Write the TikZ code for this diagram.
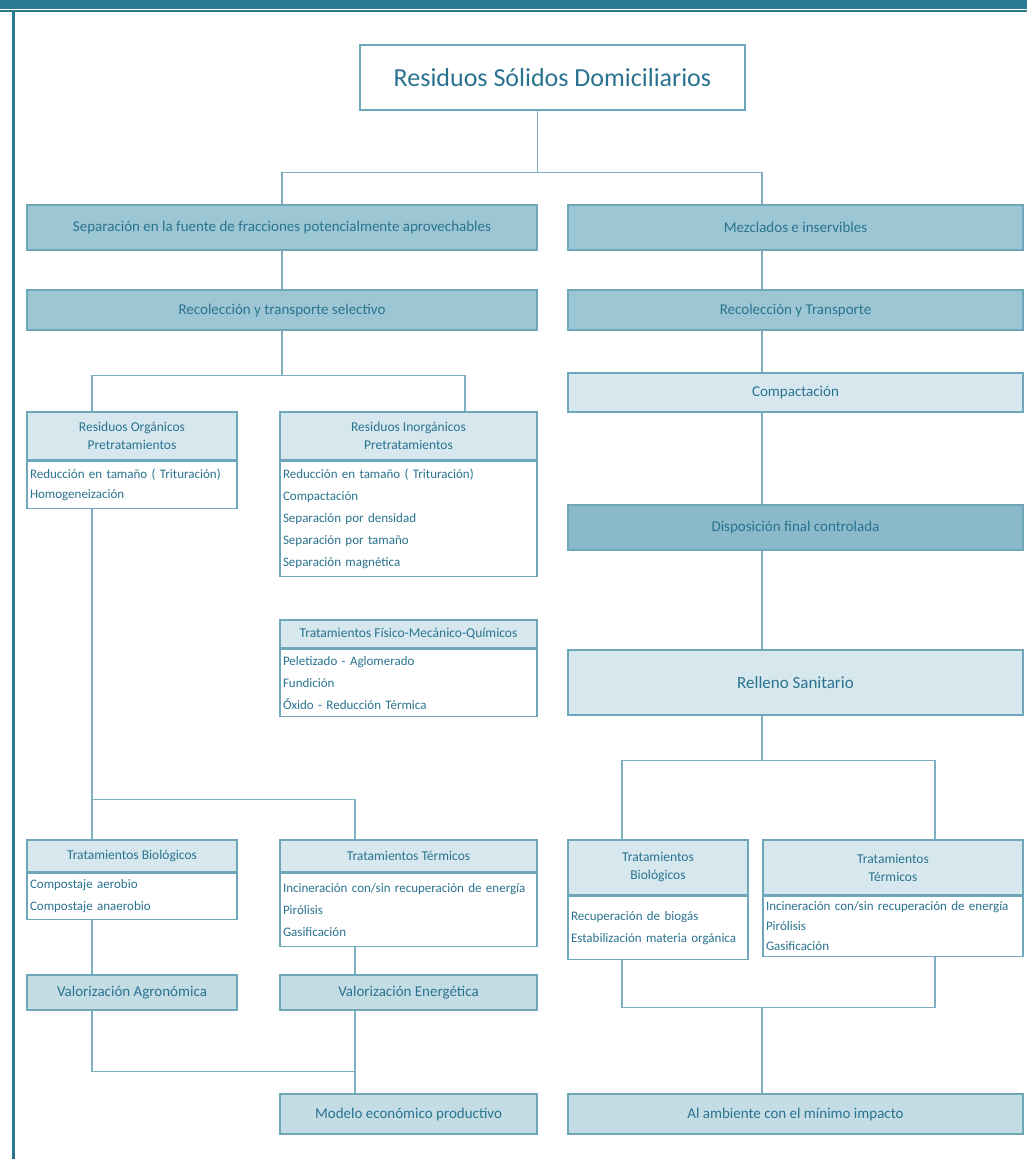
\documentclass[tikz,border=0pt]{standalone}
\usepackage{fontspec}
\setmainfont{Carlito}
\usetikzlibrary{positioning}
\definecolor{banda}{HTML}{2B7891}
\definecolor{borde}{HTML}{6FA7BA}
\definecolor{tinta}{HTML}{2A7390}
\definecolor{medio}{HTML}{9CC6D3}
\definecolor{oscuro}{HTML}{8ABACA}
\definecolor{claro}{HTML}{D6E8EE}
\definecolor{suave}{HTML}{C4DDE5}
\definecolor{linea}{HTML}{7FB0C2}
\begin{document}
\begin{tikzpicture}[x=1pt,y=-1pt,
  caja/.style={rectangle, draw=borde, line width=1.4pt, text=tinta, font=\fontsize{15}{17}\selectfont, inner sep=2pt},
  banner/.style={caja, fill=medio},
  fuerte/.style={caja, fill=oscuro},
  leve/.style={caja, fill=claro},
  valor/.style={caja, fill=suave},
  cabeza/.style={caja, fill=claro, align=center, font=\fontsize{13.5}{18}\selectfont},
  lista/.style={caja, fill=white, align=left, font=\fontsize{13}{22}\selectfont, inner xsep=3pt},
  link/.style={draw=linea, line width=1.2pt}
]
\useasboundingbox (0,0) rectangle (1027,1159);
\fill[banda] (0,0) rectangle (1027,9);
\draw[banda, line width=2pt] (0,11) -- (1027,11);
\draw[banda, line width=3pt] (13,10) -- (13,1159);

\node[caja, fill=white, minimum width=385pt, minimum height=65pt, font=\fontsize{26}{28}\selectfont] (rsd) at (552.5,77.5) {Residuos Sólidos Domiciliarios};

% columna izquierda
\node[banner, minimum width=510pt, minimum height=45pt] (sep) at (282,227.5) {Separación en la fuente de fracciones potencialmente aprovechables};
\node[banner, minimum width=510pt, minimum height=40pt] (rec1) at (282,310) {Recolección y transporte selectivo};

\node[cabeza, minimum width=210pt, minimum height=48pt] (orgH) at (132,436) {Residuos Orgánicos\\Pretratamientos};
\node[lista, text width=204pt, minimum height=47pt, below=0pt of orgH, font=\fontsize{13}{20}\selectfont] (orgB) {Reducción en tamaño ( Trituración)\\Homogeneización};
\node[cabeza, minimum width=257pt, minimum height=48pt] (inoH) at (408.5,436) {Residuos Inorgánicos\\Pretratamientos};
\node[lista, text width=251pt, minimum height=115pt, below=0pt of inoH] (inoB) {Reducción en tamaño ( Trituración)\\Compactación\\Separación por densidad\\Separación por tamaño\\Separación magnética};
\node[cabeza, minimum width=257pt, minimum height=28pt] (fmqH) at (408.5,634) {Tratamientos Físico-Mecánico-Químicos};
\node[lista, text width=251pt, minimum height=67pt, below=0pt of fmqH] (fmqB) {Peletizado - Aglomerado\\Fundición\\Óxido - Reducción Térmica};

\node[cabeza, minimum width=210pt, minimum height=32pt] (bioH) at (132,856) {Tratamientos Biológicos};
\node[lista, text width=204pt, minimum height=46pt, below=0pt of bioH] (bioB) {Compostaje aerobio\\Compostaje anaerobio};
\node[cabeza, minimum width=257pt, minimum height=32pt] (terH) at (408.5,856) {Tratamientos Térmicos};
\node[lista, text width=251pt, minimum height=73pt, below=0pt of terH] (terB) {Incineración con/sin recuperación de energía\\Pirólisis\\Gasificación};

\node[valor, minimum width=210pt, minimum height=35pt] (val1) at (132,992.5) {Valorización Agronómica};
\node[valor, minimum width=257pt, minimum height=35pt] (val2) at (408.5,992.5) {Valorización Energética};
\node[valor, minimum width=257pt, minimum height=40pt] (mod) at (408.5,1114) {Modelo económico productivo};

% columna derecha
\node[banner, minimum width=455pt, minimum height=45pt] (mez) at (795.5,227.5) {Mezclados e inservibles};
\node[banner, minimum width=455pt, minimum height=40pt] (rec2) at (795.5,310) {Recolección y Transporte};
\node[leve, minimum width=455pt, minimum height=39pt] (comp) at (795.5,392.5) {Compactación};
\node[fuerte, minimum width=455pt, minimum height=45pt] (disp) at (795.5,527.5) {Disposición final controlada};
\node[leve, minimum width=455pt, minimum height=65pt, font=\fontsize{17}{19}\selectfont] (rell) at (795.5,682.5) {Relleno Sanitario};

\node[cabeza, minimum width=180pt, minimum height=55pt] (bio2H) at (658,867.5) {Tratamientos\\Biológicos};
\node[lista, text width=174pt, minimum height=63pt, below=0pt of bio2H] (bio2B) {Recuperación de biogás\\Estabilización materia orgánica};
\node[cabeza, minimum width=260pt, minimum height=55pt] (ter2H) at (893,867.5) {Tratamientos\\Térmicos};
\node[lista, text width=254pt, minimum height=60pt, below=0pt of ter2H, font=\fontsize{13}{20}\selectfont] (ter2B) {Incineración con/sin recuperación de energía\\Pirólisis\\Gasificación};

\node[valor, minimum width=455pt, minimum height=40pt] (amb) at (795.5,1114) {Al ambiente con el mínimo impacto};

% ejes de los conectores
\coordinate (eje) at (762,0);
\coordinate (ejeA) at (92,0);
\coordinate (ejeB) at (465,0);
\coordinate (ejeC) at (355,0);
\coordinate (ejeD) at (622,0);
\coordinate (ejeE) at (935,0);

% conectores
\draw[link] ([xshift=-15pt]rsd.south) -- ++(0,62) coordinate (cruce);
\draw[link] (sep.north) |- (cruce) -| (mez.north -| eje);
\draw[link] (sep) -- (rec1);
\draw[link] (rec1.south) -- ++(0,45) coordinate (izq);
\draw[link] (orgH.north -| ejeA) |- (izq) -| (inoH.north -| ejeB);
\draw[link] (orgB.south -| ejeA) -- (bioH.north -| ejeA);
\draw[link] (terH.north -| ejeC) |- ([yshift=40pt]bioH.north -| ejeA);
\draw[link] (bioB.south -| ejeA) -- (val1.north -| ejeA);
\draw[link] (terB.south -| ejeC) -- (val2.north -| ejeC);
\draw[link] (val1.south -| ejeA) |- ([yshift=22pt]mod.north -| ejeC);
\draw[link] (val2.south -| ejeC) -- (mod.north -| ejeC);

\foreach \a/\b in {mez/rec2, rec2/comp, comp/disp, disp/rell}
  \draw[link] (\a.south -| eje) -- (\b.north -| eje);
\draw[link] (rell.south -| eje) -- ++(0,45) coordinate (der);
\draw[link] (bio2H.north -| ejeD) |- (der) -| (ter2H.north -| ejeE);
\draw[link] (bio2B.south -| ejeD) |- ([yshift=86pt]amb.north -| eje) -| (ter2B.south -| ejeE);
\draw[link] ([yshift=86pt]amb.north -| eje) -- (amb.north -| eje);
\end{tikzpicture}
\end{document}
